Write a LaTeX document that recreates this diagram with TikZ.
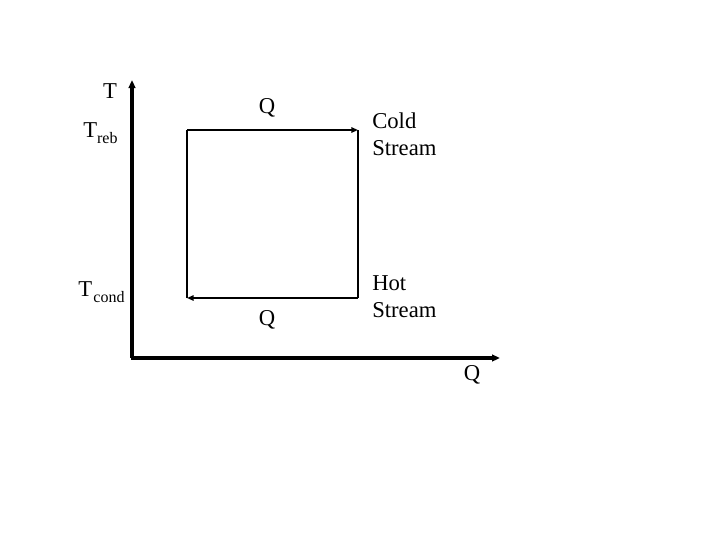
\documentclass[tikz,border=0pt]{standalone}
\usepackage{fontspec}
\setmainfont{Liberation Serif}
\usetikzlibrary{arrows.meta}
\begin{document}
\begin{tikzpicture}[x=0.75pt,y=-0.75pt,
  lbl/.style={inner sep=0pt,font=\fontsize{17}{19}\selectfont},
  txt/.style={inner sep=0pt,anchor=west,align=left,font=\fontsize{17}{20}\selectfont},
  axis/.style={line width=2.6pt,-{Triangle[length=6pt,width=5pt]}},
  flow/.style={line width=1.6pt,-{Triangle[length=5pt,width=4pt]}},
  side/.style={line width=0.8pt}]
\useasboundingbox (0,0) rectangle (720,540);
\coordinate (o) at (132,358);
\coordinate (ty) at (132,80);
\coordinate (qx) at (500,358);
\coordinate (a) at (187,130);
\coordinate (b) at (358,130);
\coordinate (c) at (358,298);
\coordinate (d) at (187,298);
\draw[axis] (o) -- (ty);
\draw[axis] ([xshift=-1pt]o) -- (qx);
\draw[side] (d) -- (a);
\draw[flow] (a) -- (b);
\draw[side] (b) -- (c);
\draw[flow] (c) -- (d);
\node[lbl] (tl) at (110,91) {T};
\node[lbl,anchor=west] (treb) at (83,133) {T\raisebox{-5pt}{\fontsize{12}{12}\selectfont reb}};
\node[lbl,anchor=west] (tcond) at (78,292) {T\kern1pt\raisebox{-5pt}{\fontsize{12}{12}\selectfont cond}};
\node[lbl] (q1) at (267,108) {Q};
\node[lbl] (q2) at (267,320) {Q};
\node[lbl] (q3) at (472,375) {Q};
\node[txt] (cold) at (372,134) {Cold\\Stream};
\node[txt] (hot) at (372,297) {Hot\\Stream};
\end{tikzpicture}
\end{document}
